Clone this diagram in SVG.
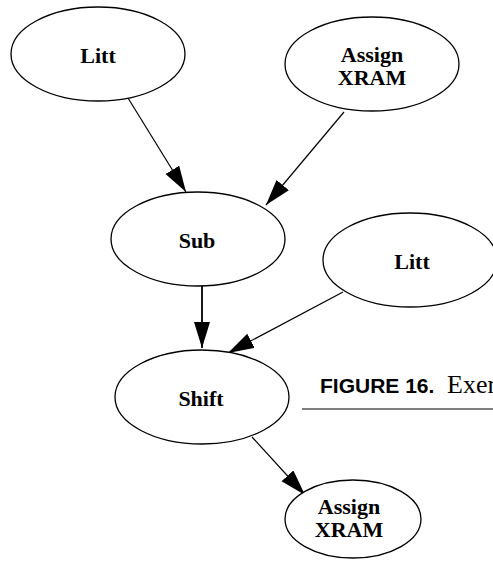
<svg xmlns="http://www.w3.org/2000/svg" width="493" height="561" viewBox="0 0 493 561">
<style>
.node ellipse{fill:#fff;stroke:#000;stroke-width:1.3}
.node text{font-family:"Liberation Serif","Times New Roman",serif;font-weight:bold;font-size:22px;text-anchor:middle;fill:#000}
.edge{stroke:#000;stroke-width:1.2;fill:none;marker-end:url(#ah)}
.cap1{font-family:"Liberation Sans",Arial,sans-serif;font-weight:bold;font-size:21px;fill:#000}
.cap2{font-family:"Liberation Serif","Times New Roman",serif;font-size:26px;fill:#000}
</style>
<defs>
<marker id="ah" markerUnits="userSpaceOnUse" markerWidth="27" markerHeight="17" refX="26" refY="8" orient="auto" viewBox="0 0 27 17">
<path d="M0,0 L26,8 L0,16 z" fill="#000"/>
</marker>
</defs>
<g id="connectors">
<line class="edge" x1="128" y1="98" x2="186" y2="192"/>
<line class="edge" x1="344" y1="112" x2="266" y2="205"/>
<line class="edge" x1="202" y1="286" x2="202" y2="348" style="stroke-width:1.8"/>
<line class="edge" x1="343" y1="292" x2="228" y2="353"/>
<line class="edge" x1="252" y1="437" x2="305" y2="495"/>
</g>
<g id="litt1" class="node"><ellipse cx="98" cy="54" rx="87" ry="47"/><text x="98" y="63">Litt</text></g>
<g id="assign1" class="node"><ellipse cx="372" cy="64" rx="87" ry="47"/><text x="372" y="62">Assign</text><text x="372" y="85">XRAM</text></g>
<g id="sub" class="node"><ellipse cx="198" cy="239" rx="87" ry="47"/><text x="197" y="248">Sub</text></g>
<g id="litt2" class="node"><ellipse cx="410" cy="260" rx="87" ry="47"/><text x="412" y="269">Litt</text></g>
<g id="shift" class="node"><ellipse cx="202" cy="397" rx="87" ry="47"/><text x="201" y="406">Shift</text></g>
<g id="assign2" class="node"><ellipse cx="353" cy="519" rx="68" ry="39"/><text x="349" y="514">Assign</text><text x="349" y="537">XRAM</text></g>
<g id="caption">
<text class="cap1" x="320" y="393">FIGURE 16.</text>
<text class="cap2" x="447" y="393">Exer</text>
<line x1="302" y1="409" x2="493" y2="409" stroke="#000" stroke-width="1.2"/>
</g>
</svg>
